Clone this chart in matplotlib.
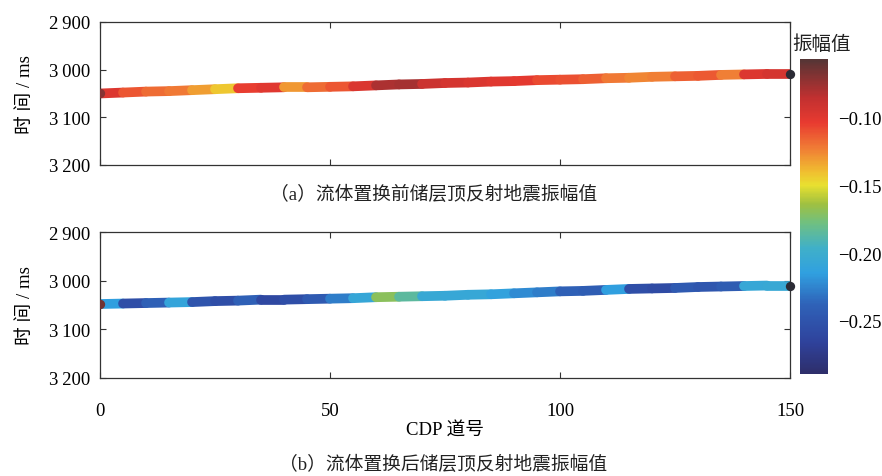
"""Seismic amplitude along the reservoir top, before and after fluid substitution."""

import matplotlib

matplotlib.use("Agg")
import matplotlib.pyplot as plt
import numpy as np
from matplotlib.collections import LineCollection
from matplotlib.colors import LinearSegmentedColormap, Normalize

plt.rcParams["font.family"] = ["Liberation Serif", "Noto Sans CJK SC"]
plt.rcParams["axes.unicode_minus"] = True

cdp = [0, 5, 10, 15, 20, 25, 30, 35, 40, 45, 50, 55, 60, 65, 70, 75,
       80, 85, 90, 95, 100, 105, 110, 115, 120, 125, 130, 135, 140, 145, 150]

# (a) before fluid substitution
time_a = [3050, 3048, 3046, 3045, 3043, 3041, 3039, 3038, 3037, 3037, 3036,
          3035, 3033, 3031, 3030, 3028, 3027, 3025, 3024, 3022, 3021, 3020,
          3018, 3017, 3015, 3014, 3013, 3011, 3010, 3009, 3009]
amp_a = [-0.098, -0.112, -0.118, -0.122, -0.132, -0.143, -0.105, -0.100,
         -0.130, -0.118, -0.112, -0.097, -0.080, -0.078, -0.090, -0.095,
         -0.097, -0.100, -0.102, -0.108, -0.110, -0.115, -0.122, -0.125,
         -0.124, -0.115, -0.113, -0.124, -0.098, -0.095, -0.095]

# (b) after fluid substitution
time_b = [3048, 3047, 3046, 3045, 3044, 3042, 3041, 3039, 3039, 3038, 3037,
          3036, 3034, 3033, 3032, 3031, 3029, 3028, 3026, 3024, 3022, 3021,
          3019, 3017, 3016, 3015, 3013, 3012, 3011, 3010, 3010]
amp_b = [-0.215, -0.255, -0.240, -0.210, -0.250, -0.255, -0.240, -0.260,
         -0.255, -0.245, -0.228, -0.208, -0.170, -0.185, -0.205, -0.207,
         -0.207, -0.212, -0.222, -0.228, -0.240, -0.242, -0.215, -0.255,
         -0.258, -0.245, -0.248, -0.243, -0.207, -0.205, -0.205]

start_amp = [-0.070, -0.065]

amp_min, amp_max = -0.289, -0.057
cbar_ticks = [-0.25, -0.20, -0.15, -0.10]
y_ticks = [2900, 3000, 3100, 3200]
x_ticks = [0, 50, 100, 150]

cmap = LinearSegmentedColormap.from_list(
    "amp",
    [
        (0.00, "#2e2e6a"),
        (0.10, "#2f429c"),
        (0.22, "#2f62b8"),
        (0.32, "#30a0e0"),
        (0.40, "#40b0c8"),
        (0.48, "#70c080"),
        (0.54, "#a0c040"),
        (0.60, "#e8e030"),
        (0.64, "#f0c030"),
        (0.72, "#f07a35"),
        (0.80, "#e83a30"),
        (0.88, "#c03030"),
        (1.00, "#553535"),
    ],
)
norm = Normalize(vmin=amp_min, vmax=amp_max)

FS = 13.5


def tick_label(v):
    s = f"{v:d}"
    return s[0] + "\u2009" + s[1:]


def draw_panel(ax, times, amps, first_amp, show_x):
    pts = np.column_stack([cdp, times])
    segs = np.stack([pts[:-1], pts[1:]], axis=1)
    lc = LineCollection(segs, cmap=cmap, norm=norm, linewidths=7,
                        capstyle="round", joinstyle="round", zorder=2)
    lc.set_array(np.asarray(amps[:-1]))
    ax.add_collection(lc)
    ax.scatter([cdp[0]], [times[0]], c=[first_amp], cmap=cmap, norm=norm,
               s=45, zorder=3, linewidths=0)
    ax.scatter([cdp[-1]], [times[-1]], color="#2b2b35", s=45, zorder=3,
               linewidths=0, clip_on=False)

    ax.set_xlim(0, 150)
    ax.set_ylim(3200, 2900)
    ax.set_xticks(x_ticks)
    ax.set_yticks(y_ticks)
    ax.set_yticklabels([tick_label(v) for v in y_ticks])
    ax.tick_params(direction="in", top=True, right=True, length=4,
                   width=0.8, labelsize=FS, color="#333333")
    ax.tick_params(axis="x", pad=17)
    ax.tick_params(axis="y", pad=7)
    if not show_x:
        ax.tick_params(axis="x", labelbottom=False)
    for spine in ax.spines.values():
        spine.set_color("#333333")
        spine.set_linewidth(0.9)
    ax.set_ylabel("时 间 / ms", fontsize=FS, labelpad=11)
    return lc


fig = plt.figure(figsize=(8.82, 4.77), dpi=100)
ax_a = fig.add_axes([0.1134, 0.652, 0.7823, 0.2998])
ax_b = fig.add_axes([0.1134, 0.2055, 0.7823, 0.306])

lc = draw_panel(ax_a, time_a, amp_a, start_amp[0], show_x=False)
draw_panel(ax_b, time_b, amp_b, start_amp[1], show_x=True)

ax_b.set_xlabel("CDP 道号", fontsize=FS, labelpad=2)

fig.text(0.492, 0.592, "（a）流体置换前储层顶反射地震振幅值", ha="center",
         va="center", fontsize=FS, color="#222222")
fig.text(0.502, 0.025, "（b）流体置换后储层顶反射地震振幅值", ha="center",
         va="center", fontsize=FS, color="#222222")

cax = fig.add_axes([0.907, 0.214, 0.0317, 0.660])
cbar = fig.colorbar(lc, cax=cax, ticks=cbar_ticks)
cbar.outline.set_visible(False)
cbar.ax.tick_params(length=0, labelsize=FS, pad=7)
cbar.ax.set_yticklabels([f"\u2212{abs(t):.2f}" for t in cbar_ticks])
fig.text(0.932, 0.906, "振幅值", ha="center", va="center", fontsize=14,
         color="#222222")

fig.savefig("out.png", dpi=100, facecolor="white")
